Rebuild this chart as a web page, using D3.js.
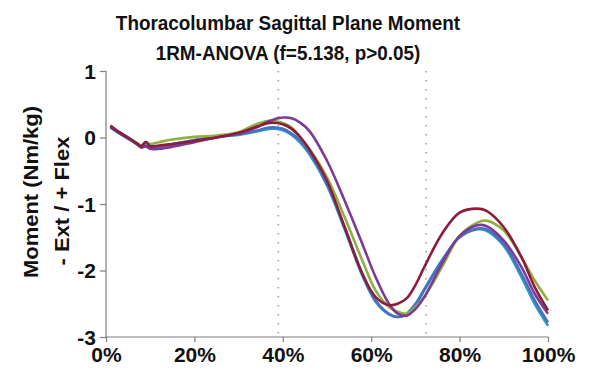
<!DOCTYPE html>
<html>
<head>
<meta charset="utf-8">
<script src="https://cdn.jsdelivr.net/npm/d3@7"></script>
<style>
  body { margin: 0; background: #fff; }
  text { font-family: "Liberation Sans", Arial, sans-serif; font-weight: bold; fill: #111; }
</style>
</head>
<body>
<svg id="chart"></svg>
<script>
const width = 589;
const height = 383;

const titleLines = ['Thoracolumbar Sagittal Plane Moment', '1RM-ANOVA (f=5.138, p>0.05)'];
const yLabelLines = ['Moment (Nm/kg)', '- Ext / + Flex'];

// % of cycle
const pct = [1, 3, 5, 7, 8, 9, 10, 12, 15, 20, 25, 30, 34, 37, 40, 42, 44, 46, 50, 54, 58, 61, 64, 66, 68, 70, 72, 76, 80, 84, 86, 90, 94, 97, 100];

const teal   = [0.15, 0.06, -0.02, -0.10, -0.14, -0.12, -0.15, -0.14, -0.10, -0.04, 0.01, 0.04, 0.09, 0.13, 0.11, 0.04, -0.08, -0.25, -0.72, -1.38, -2.08, -2.47, -2.66, -2.70, -2.65, -2.50, -2.28, -1.85, -1.50, -1.38, -1.40, -1.63, -2.10, -2.50, -2.83];
const blue   = [0.16, 0.07, -0.01, -0.10, -0.15, -0.13, -0.16, -0.15, -0.10, -0.04, 0.02, 0.05, 0.10, 0.15, 0.13, 0.06, -0.05, -0.22, -0.70, -1.35, -2.05, -2.45, -2.65, -2.70, -2.66, -2.52, -2.30, -1.85, -1.50, -1.37, -1.38, -1.60, -2.05, -2.45, -2.78];
const green  = [0.17, 0.08, 0.00, -0.08, -0.12, -0.07, -0.10, -0.07, -0.03, 0.01, 0.03, 0.08, 0.20, 0.25, 0.22, 0.15, 0.00, -0.17, -0.60, -1.20, -1.85, -2.30, -2.55, -2.62, -2.65, -2.55, -2.40, -1.95, -1.48, -1.28, -1.25, -1.40, -1.80, -2.15, -2.45];
const purple = [0.16, 0.07, -0.01, -0.10, -0.15, -0.13, -0.17, -0.17, -0.14, -0.07, 0.00, 0.06, 0.15, 0.25, 0.30, 0.29, 0.22, 0.10, -0.35, -0.95, -1.60, -2.10, -2.50, -2.65, -2.68, -2.58, -2.40, -1.90, -1.48, -1.32, -1.33, -1.55, -1.95, -2.35, -2.65];
const maroon = [0.18, 0.08, 0.00, -0.09, -0.13, -0.07, -0.13, -0.12, -0.10, -0.05, 0.00, 0.07, 0.16, 0.22, 0.20, 0.13, 0.00, -0.18, -0.65, -1.35, -2.05, -2.40, -2.52, -2.50, -2.42, -2.22, -1.95, -1.45, -1.13, -1.07, -1.10, -1.35, -1.80, -2.25, -2.60];

const seriesNames = ['teal', 'blue', 'green', 'purple', 'maroon'];
const seriesValues = [teal, blue, green, purple, maroon];
const seriesColors = ['#2b9cc4', '#4a6ec0', '#8fb040', '#7b3a96', '#8c1c3c'];

const xTicks = [0, 20, 40, 60, 80, 100];
const yTicks = [1, 0, -1, -2, -3];
const eventLines = [39, 72.4];

const svg = d3.select('#chart').attr('width', width).attr('height', height);

const x = d3.scaleLinear().domain([0, 100]).range([106, 548]);
const y = d3.scaleLinear().domain([-3, 1]).range([337, 71]);

// squeeze text a bit horizontally like the source image
const sx = 0.9;

svg.selectAll('.title')
  .data(titleLines)
  .enter().append('text')
  .attr('class', 'title')
  .attr('text-anchor', 'middle')
  .attr('transform', (d, i) => `translate(288, ${30 + i * 30}) scale(${sx},1)`)
  .style('font-size', '21px')
  .text(d => d);

// dotted event lines
svg.selectAll('.event')
  .data(eventLines)
  .enter().append('line')
  .attr('x1', d => x(d)).attr('x2', d => x(d))
  .attr('y1', y(1)).attr('y2', y(-3))
  .attr('stroke', '#9a9a9a')
  .attr('stroke-width', 1.5)
  .attr('stroke-dasharray', '1.5,7.5');

// axes
const axisColor = '#7f7f7f';
const yAxis = svg.append('g').attr('transform', `translate(${x(0)},0)`)
  .call(d3.axisLeft(y).tickValues(yTicks).tickSize(6).tickFormat(d => String(d)));
const xAxis = svg.append('g').attr('transform', `translate(0,${y(-3)})`)
  .call(d3.axisBottom(x).tickValues(xTicks).tickSize(5).tickFormat(d => d + '%'));

[yAxis, xAxis].forEach(a => {
  a.select('.domain').attr('stroke', axisColor).attr('stroke-width', 1.2);
  a.selectAll('.tick line').attr('stroke', axisColor).attr('stroke-width', 1.2);
  a.selectAll('text').style('font-size', '21px').style('font-family', '"Liberation Sans", Arial, sans-serif')
    .style('font-weight', 'bold').attr('fill', '#111');
});
yAxis.select('.domain').attr('d', `M0,${y(1)}H0V${y(-3)}`);
xAxis.select('.domain').attr('d', `M${x(0)},0H${x(100)}`);
yAxis.selectAll('.tick text').attr('x', -10).attr('dy', '0.35em');
xAxis.selectAll('.tick text').attr('y', 10).attr('dy', '0.71em');

// y label
svg.selectAll('.ylab')
  .data(yLabelLines)
  .enter().append('text')
  .attr('class', 'ylab')
  .attr('text-anchor', 'middle')
  .attr('transform', (d, i) => `translate(${38 + i * 31}, ${[192, 201][i]}) scale(${sx},1) rotate(-90)`)
  .style('font-size', '22px')
  .text(d => d);

// curves
const line = d3.line()
  .x(d => x(d[0]))
  .y(d => y(d[1]))
  .curve(d3.curveCatmullRom.alpha(0.5));

svg.selectAll('.series')
  .data(seriesValues)
  .enter().append('path')
  .attr('class', (d, i) => 'series ' + seriesNames[i])
  .attr('fill', 'none')
  .attr('stroke', (d, i) => seriesColors[i])
  .attr('stroke-width', 2.6)
  .attr('d', vals => line(vals.map((v, j) => [pct[j], v])));
</script>
</body>
</html>
